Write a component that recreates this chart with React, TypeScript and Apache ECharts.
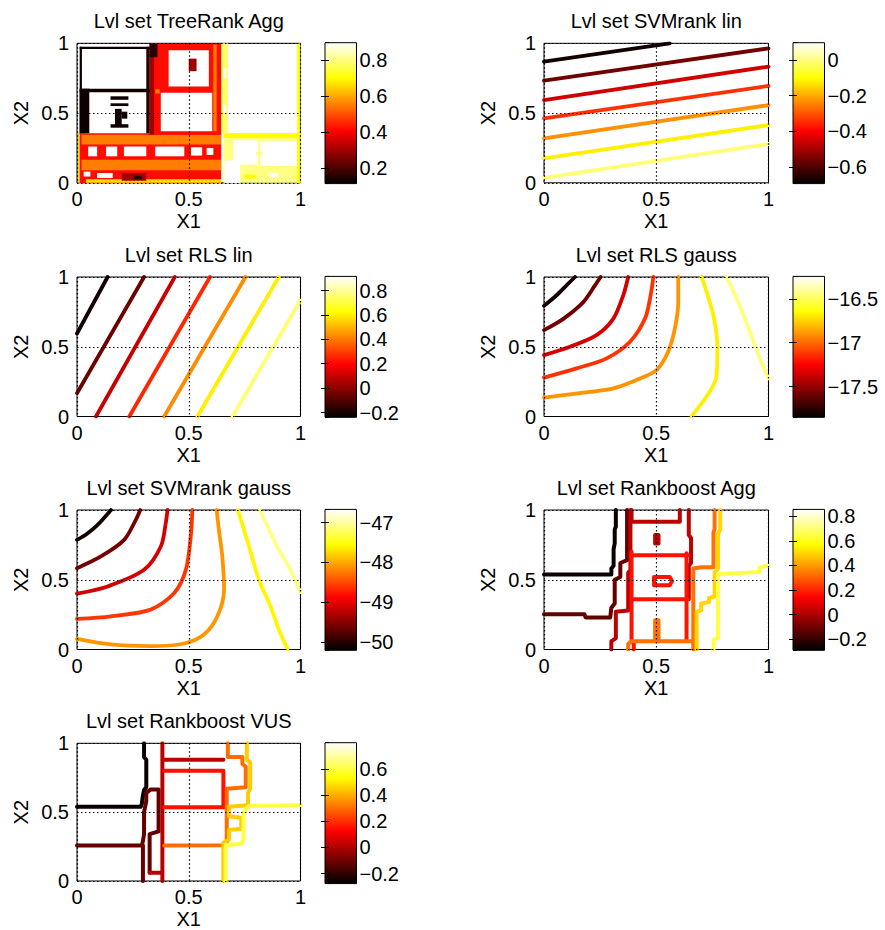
import React, { useEffect, useRef } from "react";
import * as echarts from "echarts";

type Pt = [number, number];
type Path = [number, Pt[]];

const FONT = '"Liberation Sans", Arial, Helvetica, sans-serif';

// ---------------- titles & axis names ----------------
const titles = [
  "Lvl set TreeRank Agg",
  "Lvl set SVMrank lin",
  "Lvl set RLS lin",
  "Lvl set RLS gauss",
  "Lvl set SVMrank gauss",
  "Lvl set Rankboost Agg",
  "Lvl set Rankboost VUS",
];
const xName = "X1";
const yName = "X2";

// ---------------- colour limits (colorbar ranges) ----------------
const climTree = [0.113, 0.896];
const climSvmLin = [-0.692, 0.096];
const climRlsLin = [-0.239, 0.916];
const climRlsGauss = [-17.85, -16.244];
const climSvmGauss = [-50.21, -46.67];
const climRbAgg = [-0.29, 0.855];
const climRbVus = [-0.277, 0.8];

// ---------------- TreeRank Agg: level-set blocks [x0, y0, x1, y1, level | null(white)] ----------------
const treeBlocks: (number | null)[][] = [
  [0.655, 0.0, 1.0, 0.355, 0.8],
  [0.655, 0.322, 1.0, 0.355, 0.7],
  [0.7, 0.13, 0.81, 0.305, null],
  [0.82, 0.12, 0.985, 0.3, null],
  [0.66, 0.0, 0.73, 0.16, null],
  [0.75, 0.03, 0.8, 0.06, 0.7],
  [0.86, 0.04, 0.9, 0.07, null],
  [0.8, 0.2, 0.83, 0.22, 0.8],
  [0.985, 0.0, 1.0, 1.0, 0.7],
  [0.645, 0.355, 0.675, 1.0, 0.78],
  [0.655, 0.5, 0.668, 0.56, null],
  [0.655, 0.75, 0.668, 0.82, null],
  [0.005, 0.0, 0.645, 0.355, 0.42],
  [0.02, 0.275, 0.645, 0.345, 0.55],
  [0.02, 0.09, 0.645, 0.165, 0.55],
  [0.04, 0.0, 0.645, 0.025, 0.66],
  [0.05, 0.19, 0.09, 0.26, null],
  [0.13, 0.19, 0.18, 0.26, null],
  [0.21, 0.19, 0.31, 0.26, null],
  [0.35, 0.19, 0.48, 0.26, null],
  [0.51, 0.195, 0.56, 0.255, null],
  [0.58, 0.2, 0.61, 0.25, null],
  [0.03, 0.045, 0.06, 0.08, null],
  [0.09, 0.035, 0.16, 0.07, null],
  [0.2, 0.015, 0.31, 0.07, 0.3],
  [0.255, 0.025, 0.29, 0.05, 0.16],
  [0.005, 0.0, 0.012, 0.355, 0.7],
  [0.325, 0.345, 0.645, 0.995, 0.42],
  [0.375, 0.37, 0.605, 0.645, null],
  [0.41, 0.69, 0.59, 0.95, null],
  [0.5, 0.8, 0.535, 0.89, 0.3],
  [0.325, 0.345, 0.345, 0.995, 0.3],
  [0.325, 0.9, 0.36, 0.995, 0.16],
  [0.61, 0.37, 0.625, 0.99, 0.55],
  [0.35, 0.64, 0.37, 0.67, 0.55],
  [0.012, 0.96, 0.325, 0.975, 0.13],
  [0.012, 0.65, 0.325, 0.675, 0.13],
  [0.012, 0.355, 0.055, 0.675, 0.13],
  [0.012, 0.355, 0.022, 0.975, 0.13],
  [0.31, 0.355, 0.325, 0.975, 0.15],
  [0.15, 0.595, 0.23, 0.62, 0.13],
  [0.15, 0.55, 0.23, 0.57, 0.13],
  [0.17, 0.4, 0.2, 0.53, 0.13],
  [0.15, 0.395, 0.23, 0.42, 0.13],
  [0.2, 0.46, 0.225, 0.51, 0.13],
];

// ---------------- SVMrank lin ----------------
const svmLinLevels = [-0.67, -0.56, -0.45, -0.34, -0.23, -0.12, -0.01];
const svmLinPaths: Path[] = [
  [0, [[0, 0.868], [0.56, 1.0]]],
  [1, [[0, 0.732], [1, 0.964]]],
  [2, [[0, 0.593], [1, 0.833]]],
  [3, [[0, 0.462], [1, 0.694]]],
  [4, [[0, 0.318], [1, 0.557]]],
  [5, [[0, 0.175], [1, 0.414]]],
  [6, [[0, 0.036], [1, 0.278]]],
];

// ---------------- RLS lin ----------------
const rlsLinLevels = [-0.21, -0.05, 0.1, 0.26, 0.43, 0.6, 0.76];
const rlsLinPaths: Path[] = [
  [0, [[0, 0.595], [0.137, 1]]],
  [1, [[0, 0.167], [0.3, 1]]],
  [2, [[0.085, 0], [0.4375, 1]]],
  [3, [[0.234, 0], [0.595, 1]]],
  [4, [[0.39, 0], [0.754, 1]]],
  [5, [[0.539, 0], [0.903, 1]]],
  [6, [[0.695, 0], [1, 0.833]]],
];

// ---------------- RLS gauss ----------------
const rlsGaussLevels = [-17.8, -17.58, -17.35, -17.13, -16.9, -16.68, -16.45];
const rlsGaussPaths: Path[] = [
  [0, [[0, 0.793], [0.056, 0.869], [0.1, 0.94], [0.138, 1]]],
  [1, [[0, 0.619], [0.086, 0.7], [0.175, 0.82], [0.227, 0.94], [0.252, 1]]],
  [2, [[0, 0.44], [0.116, 0.5], [0.234, 0.583], [0.309, 0.702], [0.353, 0.869], [0.375, 1]]],
  [3, [[0, 0.279], [0.145, 0.345], [0.279, 0.417], [0.383, 0.536], [0.45, 0.702], [0.475, 0.869], [0.487, 1]]],
  [4, [[0, 0.136], [0.16, 0.167], [0.309, 0.202], [0.412, 0.262], [0.501, 0.333], [0.553, 0.464], [0.583, 0.631], [0.598, 0.821], [0.598, 1]]],
  [5, [[0.657, 0], [0.739, 0.179], [0.769, 0.298], [0.772, 0.512], [0.754, 0.726], [0.724, 0.893], [0.702, 1]]],
  [6, [[0.813, 1], [0.865, 0.821], [0.917, 0.607], [0.961, 0.417], [1, 0.274]]],
];

// ---------------- SVMrank gauss ----------------
const svmGaussLevels = [-50.1, -49.6, -49.1, -48.6, -48.1, -47.6, -47.1];
const svmGaussPaths: Path[] = [
  [0, [[0, 0.786], [0.045, 0.83], [0.09, 0.89], [0.125, 0.95], [0.152, 1]]],
  [1, [[0, 0.583], [0.107, 0.667], [0.211, 0.786], [0.263, 0.929], [0.283, 1]]],
  [2, [[0, 0.4], [0.137, 0.452], [0.3, 0.571], [0.375, 0.738], [0.397, 0.905], [0.405, 1]]],
  [3, [[0, 0.219], [0.152, 0.238], [0.33, 0.286], [0.435, 0.405], [0.487, 0.571], [0.509, 0.81], [0.516, 1]]],
  [4, [[0, 0.076], [0.152, 0.036], [0.33, 0.024], [0.479, 0.043], [0.568, 0.107], [0.628, 0.238], [0.658, 0.429], [0.65, 0.667], [0.635, 0.857], [0.625, 1]]],
  [5, [[0.72, 1], [0.77, 0.738], [0.814, 0.5], [0.866, 0.31], [0.903, 0.143], [0.943, 0]]],
  [6, [[0.818, 1], [0.896, 0.738], [0.955, 0.571], [1, 0.405]]],
];

// ---------------- Rankboost Agg ----------------
const rbAggLevels = [-0.27, -0.12, 0.03, 0.17, 0.33, 0.5, 0.65];
const rbAggPaths: Path[] = [
  [0, [[0, 0.537], [0.3, 0.537], [0.3, 0.58], [0.31, 0.6], [0.31, 0.72], [0.315, 0.76], [0.315, 0.86], [0.32, 0.88], [0.32, 1]]],
  [1, [[0, 0.253], [0.18, 0.253], [0.185, 0.23], [0.295, 0.23], [0.3, 0.3], [0.315, 0.33], [0.315, 0.5], [0.34, 0.52], [0.34, 0.62], [0.37, 0.64], [0.37, 1]]],
  [2, [[0.3, 0], [0.3, 0.06], [0.32, 0.08], [0.32, 0.27], [0.375, 0.28], [0.375, 0.55], [0.385, 0.57], [0.385, 1]]],
  [2, [[0.39, 1], [0.39, 0.915], [0.605, 0.915], [0.605, 1]]],
  [2, [[0.645, 1], [0.645, 0.82], [0.655, 0.8], [0.655, 0.62], [0.645, 0.6], [0.645, 0.36]]],
  [2, [[0.495, 0.76], [0.495, 0.82], [0.51, 0.82], [0.51, 0.76], [0.495, 0.76]]],
  [3, [[0.39, 0.675], [0.64, 0.675]]],
  [3, [[0.39, 0.361], [0.64, 0.361]]],
  [3, [[0.39, 0.7], [0.39, 0.06], [0.4, 0.04], [0.4, 0]]],
  [3, [[0.635, 0.69], [0.635, 0.06]]],
  [3, [[0.49, 0.46], [0.49, 0.52], [0.56, 0.52], [0.57, 0.49], [0.56, 0.46], [0.49, 0.46]]],
  [4, [[0.375, 0], [0.375, 0.04], [0.39, 0.06], [0.665, 0.06]]],
  [4, [[0.495, 0.06], [0.495, 0.21], [0.51, 0.21], [0.51, 0.06]]],
  [4, [[0.665, 0], [0.665, 0.58], [0.7, 0.59], [0.755, 0.59], [0.755, 0.84], [0.76, 0.86], [0.76, 1]]],
  [5, [[0.68, 0], [0.68, 0.27], [0.7, 0.28], [0.7, 0.33], [0.735, 0.34], [0.735, 0.37], [0.76, 0.38], [0.76, 0.55], [0.775, 0.58], [0.775, 0.83], [0.785, 0.86], [0.785, 1]]],
  [6, [[0.755, 0], [0.755, 0.07], [0.775, 0.08], [0.775, 0.54], [0.96, 0.555], [0.96, 0.585], [0.985, 0.6], [1, 0.6]]],
];

// ---------------- Rankboost VUS ----------------
const rbVusLevels = [-0.26, -0.12, 0.02, 0.15, 0.3, 0.45, 0.6];
const rbVusPaths: Path[] = [
  [0, [[0, 0.54], [0.285, 0.54], [0.29, 0.56], [0.295, 0.62], [0.3, 0.66], [0.31, 0.68], [0.31, 0.88], [0.3, 0.9], [0.3, 1]]],
  [1, [[0, 0.257], [0.29, 0.257], [0.295, 0.29], [0.3, 0.34], [0.3, 0.5], [0.31, 0.58], [0.31, 0.64], [0.33, 0.665], [0.365, 0.665], [0.365, 0.36], [0.325, 0.34], [0.325, 0.06]]],
  [1, [[0.295, 0], [0.295, 0.257]]],
  [2, [[0.382, 1], [0.382, 0]]],
  [2, [[0.325, 0.06], [0.38, 0.06]]],
  [2, [[0.385, 0.88], [0.655, 0.88]]],
  [3, [[0.39, 0.8], [0.655, 0.8], [0.655, 0.54]]],
  [3, [[0.39, 0.535], [0.66, 0.535]]],
  [4, [[0.675, 1], [0.675, 0.9], [0.74, 0.9], [0.74, 0.85], [0.755, 0.83], [0.755, 0.68], [0.67, 0.67], [0.67, 0.26], [0.39, 0.257]]],
  [5, [[0.76, 1], [0.76, 0.88], [0.775, 0.86], [0.775, 0.67], [0.765, 0.64], [0.765, 0.55], [0.68, 0.54], [0.68, 0.47], [0.735, 0.46], [0.735, 0.38], [0.68, 0.37], [0.68, 0.3], [0.655, 0.28], [0.655, 0]]],
  [6, [[0.665, 0], [0.665, 0.26], [0.735, 0.27], [0.745, 0.3], [0.745, 0.5], [0.77, 0.545], [1, 0.55]]],
];

// ---------------- layout (pixels) ----------------
const colLeft = [77, 544];
const colW = [223.5, 224.5];
const rowTop = [43.3, 277, 510, 743.3];
const PH = 139.5;
const cbLeft = [325, 793];
const CBW = 31.5;

interface Panel {
  title: string;
  clim: number[];
  split: number;
  levels: number[];
  paths: Path[];
  smooth: boolean;
  width: number;
  blocks?: (number | null)[][];
  col: number;
  row: number;
}

const panels: Panel[] = [
  { title: titles[0], clim: climTree, split: 4, levels: [], paths: [], smooth: false, width: 3, blocks: treeBlocks, col: 0, row: 0 },
  { title: titles[1], clim: climSvmLin, split: 4, levels: svmLinLevels, paths: svmLinPaths, smooth: false, width: 3.8, col: 1, row: 0 },
  { title: titles[2], clim: climRlsLin, split: 6, levels: rlsLinLevels, paths: rlsLinPaths, smooth: false, width: 3.8, col: 0, row: 1 },
  { title: titles[3], clim: climRlsGauss, split: 3, levels: rlsGaussLevels, paths: rlsGaussPaths, smooth: true, width: 3.8, col: 1, row: 1 },
  { title: titles[4], clim: climSvmGauss, split: 4, levels: svmGaussLevels, paths: svmGaussPaths, smooth: true, width: 3.8, col: 0, row: 2 },
  { title: titles[5], clim: climRbAgg, split: 6, levels: rbAggLevels, paths: rbAggPaths, smooth: false, width: 4, col: 1, row: 2 },
  { title: titles[6], clim: climRbVus, split: 5, levels: rbVusLevels, paths: rbVusPaths, smooth: false, width: 4, col: 0, row: 3 },
];

function hot(v: number, clim: number[]): string {
  const t = Math.max(0, Math.min(1, (v - clim[0]) / (clim[1] - clim[0])));
  const r = Math.min(1, t / 0.375);
  const g = Math.max(0, Math.min(1, (t - 0.375) / 0.375));
  const b = Math.max(0, Math.min(1, (t - 0.75) / 0.25));
  return `rgb(${Math.round(r * 255)},${Math.round(g * 255)},${Math.round(b * 255)})`;
}

const fmtMinus = (v: number) => String(Math.round(v * 1000) / 1000).replace("-", "\u2212");

const textStyle = { fontSize: 20, color: "#000", fontFamily: FONT };

function buildOption() {
  const grid: any[] = [];
  const xAxis: any[] = [];
  const yAxis: any[] = [];
  const series: any[] = [];
  const graphic: any[] = [];

  panels.forEach((p) => {
    const left = colLeft[p.col];
    const w = colW[p.col];
    const top = rowTop[p.row];

    // ---- plot area ----
    const gi = grid.length;
    grid.push({ left, top, width: w, height: PH, show: true, backgroundColor: "#fff", borderColor: "#000", borderWidth: 1 });
    const xi = xAxis.length;
    xAxis.push({
      gridIndex: gi, type: "value", min: 0, max: 1, interval: 0.5, z: 3,
      axisLine: { show: false }, axisTick: { show: false },
      axisLabel: { ...textStyle, margin: 6 },
      splitLine: { show: true, lineStyle: { color: "#000", width: 1.2, type: [1.5, 2.5] } },
      name: xName, nameLocation: "middle", nameGap: 28, nameTextStyle: textStyle,
    });
    const yi = yAxis.length;
    yAxis.push({
      gridIndex: gi, type: "value", min: 0, max: 1, interval: 0.5, z: 3,
      axisLine: { show: false }, axisTick: { show: false },
      axisLabel: { ...textStyle, margin: 8 },
      splitLine: { show: true, lineStyle: { color: "#000", width: 1.2, type: [1.5, 2.5] } },
      name: yName, nameLocation: "middle", nameGap: 46, nameRotate: 90, nameTextStyle: textStyle,
    });

    if (p.blocks) {
      const blocks = p.blocks;
      series.push({
        type: "custom", xAxisIndex: xi, yAxisIndex: yi, silent: true, z: 2,
        data: blocks.map((b) => [b[0], b[1], b[2], b[3]]),
        encode: { x: [0, 2], y: [1, 3] },
        renderItem: (params: any, api: any) => {
          const b = blocks[params.dataIndex];
          const p0 = api.coord([api.value(0), api.value(1)]);
          const p1 = api.coord([api.value(2), api.value(3)]);
          return {
            type: "rect",
            shape: { x: p0[0], y: p1[1], width: p1[0] - p0[0], height: p0[1] - p1[1] },
            style: { fill: b[4] == null ? "#fff" : hot(b[4] as number, p.clim) },
          };
        },
      });
    }

    p.paths.forEach(([li, pts]) => {
      series.push({
        type: "line", xAxisIndex: xi, yAxisIndex: yi, data: pts, symbol: "none", showSymbol: false,
        smooth: p.smooth ? 0.3 : false, silent: true, z: 2, clip: true,
        lineStyle: { color: hot(p.levels[li], p.clim), width: p.width, cap: "round", join: "round" },
      });
    });

    // ---- colorbar ----
    const cg = grid.length;
    grid.push({ left: cbLeft[p.col], top: top - 0.6, width: CBW, height: PH + 1.4, show: false });
    const cxi = xAxis.length;
    xAxis.push({ gridIndex: cg, type: "value", min: 0, max: 1, show: false });
    const cyi = yAxis.length;
    const cbAxisBase = {
      gridIndex: cg, type: "value", min: p.clim[0], max: p.clim[1], splitNumber: p.split, z: 5,
      axisLine: { show: false }, splitLine: { show: false },
      axisTick: { show: true, inside: true, length: 4, lineStyle: { color: "#000", width: 1 } },
    };
    yAxis.push({
      ...cbAxisBase, position: "right",
      axisLabel: { ...textStyle, margin: 3, showMinLabel: false, showMaxLabel: false, formatter: fmtMinus },
    });
    yAxis.push({ ...cbAxisBase, position: "left", axisLabel: { show: false } });
    series.push({
      type: "custom", xAxisIndex: cxi, yAxisIndex: cyi, silent: true, z: 2,
      data: [[0, p.clim[0], 1, p.clim[1]]],
      encode: { x: [0, 2], y: [1, 3] },
      renderItem: (params: any, api: any) => {
        const p0 = api.coord([api.value(0), api.value(1)]);
        const p1 = api.coord([api.value(2), api.value(3)]);
        return {
          type: "rect",
          shape: { x: p0[0], y: p1[1], width: p1[0] - p0[0], height: p0[1] - p1[1] },
          style: {
            fill: {
              type: "linear", x: 0, y: 1, x2: 0, y2: 0,
              colorStops: [
                { offset: 0, color: "#000000" },
                { offset: 0.375, color: "#ff0000" },
                { offset: 0.75, color: "#ffff00" },
                { offset: 1, color: "#ffffff" },
              ],
            },
            stroke: "#000", lineWidth: 1,
          },
        };
      },
    });

    // ---- title ----
    graphic.push({
      type: "text", x: left + w / 2, y: top - 22.5, silent: true,
      style: { text: p.title, fontSize: 20, fontFamily: FONT, fill: "#000", align: "center", verticalAlign: "middle" },
    });
  });

  return {
    animation: false,
    backgroundColor: "#fff",
    grid, xAxis, yAxis, series, graphic,
  };
}

export default function App() {
  const ref = useRef<HTMLDivElement>(null);
  useEffect(() => {
    const chart = echarts.init(ref.current as HTMLDivElement, undefined, { renderer: "svg", width: 885, height: 930 });
    chart.setOption(buildOption() as any);
    return () => chart.dispose();
  }, []);
  return <div ref={ref} style={{ position: "absolute", left: 0, top: 0, width: 885, height: 930, background: "#fff" }} />;
}
